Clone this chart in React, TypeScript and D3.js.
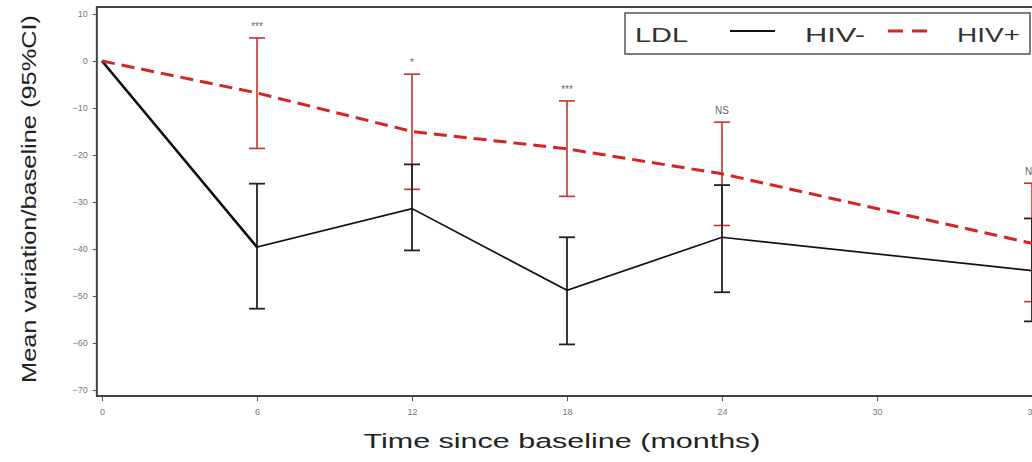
import React, { useEffect, useRef } from "react";
import * as d3 from "d3";

// months since baseline
const months = [0, 6, 12, 18, 24, 36];
const xTicks = [0, 6, 12, 18, 24, 30, 36];
const yTicks = [10, 0, -10, -20, -30, -40, -50, -60, -70];

// HIV- (black, solid)
const negMean = [0, -39.6, -31.4, -48.8, -37.5, -44.6];
const negLow = [null, -52.7, -40.3, -60.3, -49.2, -55.4];
const negHigh = [null, -26.1, -22.0, -37.5, -26.4, -33.5];

// HIV+ (red, dashed)
const posMean = [0, -6.8, -15.0, -18.7, -24.0, -38.8];
const posLow = [null, -18.6, -27.3, -28.8, -35.0, -51.2];
const posHigh = [null, 4.9, -2.8, -8.5, -13.0, -26.0];

// significance labels above the HIV+ upper limit
const signif = [null, "***", "*", "***", "NS", "NS"];

export default function App() {
  const ref = useRef<SVGSVGElement>(null);

  useEffect(() => {
    const svg = d3.select(ref.current);
    svg.selectAll("*").remove();

    const x = d3.scaleLinear().domain([0, 36]).range([102, 1032]);
    const y = d3.scaleLinear().domain([-70, 10]).range([390, 14]);
    const left = x(-0.2);
    const top = y(11.5);
    const bottom = y(-71.3);
    const right = x(36.4);
    const lf = "Liberation Sans, Arial, sans-serif";

    const g = svg.append("g");

    // frame lines
    g.append("line").attr("x1", left).attr("x2", right).attr("y1", top).attr("y2", top)
      .attr("stroke", "#444").attr("stroke-width", 2);

    const xAxis = g.append("g").attr("transform", `translate(0, ${bottom})`)
      .call(d3.axisBottom(x).tickValues(xTicks).tickSize(5).tickPadding(8).tickFormat(d3.format("d")));
    xAxis.select(".domain").remove();
    g.append("line").attr("x1", left).attr("x2", right).attr("y1", bottom).attr("y2", bottom)
      .attr("stroke", "#444").attr("stroke-width", 2);

    const yAxis = g.append("g").attr("transform", `translate(${left}, 0)`)
      .call(d3.axisLeft(y).tickValues(yTicks).tickSize(4).tickPadding(5).tickFormat(d3.format("d")));
    yAxis.select(".domain").remove();
    g.append("line").attr("x1", left).attr("x2", left).attr("y1", top - 1).attr("y2", bottom + 1)
      .attr("stroke", "#444").attr("stroke-width", 2);

    [xAxis, yAxis].forEach(a => {
      a.selectAll(".tick line").attr("stroke", "#555");
      a.selectAll(".tick text").attr("fill", "#777").style("font-size", "9px")
        .style("font-family", lf);
    });

    // error bars
    const drawBars = (low, high, color, width) => {
      months.forEach((m, i) => {
        if (low[i] == null) return;
        const cx = x(m);
        g.append("line").attr("x1", cx).attr("x2", cx).attr("y1", y(high[i])).attr("y2", y(low[i]))
          .attr("stroke", color).attr("stroke-width", width);
        [low[i], high[i]].forEach(v => {
          g.append("line").attr("x1", cx - 8).attr("x2", cx + 8).attr("y1", y(v)).attr("y2", y(v))
            .attr("stroke", color).attr("stroke-width", width);
        });
      });
    };
    drawBars(posLow, posHigh, "#c8322e", 1.6);
    drawBars(negLow, negHigh, "#222", 1.8);

    const line = d3.line<number>().x((d, i) => x(months[i])).y(d => y(d));

    // black line: first segment drawn heavier
    g.append("path").datum(negMean.slice(0, 2)).attr("d", line)
      .attr("fill", "none").attr("stroke", "#111").attr("stroke-width", 2.6);
    g.append("path").datum(negMean)
      .attr("d", line)
      .attr("fill", "none").attr("stroke", "#111").attr("stroke-width", 1.7);

    g.append("path").datum(posMean).attr("d", line)
      .attr("fill", "none").attr("stroke", "#d42424").attr("stroke-width", 3)
      .attr("stroke-dasharray", "13 7");

    // significance labels
    months.forEach((m, i) => {
      if (!signif[i]) return;
      g.append("text").attr("x", x(m)).attr("y", y(posHigh[i]) - 8)
        .attr("text-anchor", "middle").attr("fill", "#666")
        .style("font-size", "10px").style("font-family", lf)
        .text(signif[i]);
    });

    // legend
    const lg = g.append("g");
    lg.append("rect").attr("x", 625).attr("y", 13).attr("width", 405).attr("height", 41)
      .attr("fill", "white").attr("stroke", "#555").attr("stroke-width", 1.5);
    const legendText = (tx, len, s) =>
      lg.append("text").attr("x", tx).attr("y", 42).style("font-size", "21px").style("font-family", lf)
        .attr("textLength", len).attr("lengthAdjust", "spacingAndGlyphs")
        .attr("fill", "#333").text(s);
    legendText(635, 53, "LDL");
    lg.append("line").attr("x1", 730).attr("x2", 775).attr("y1", 31).attr("y2", 31)
      .attr("stroke", "#111").attr("stroke-width", 1.8);
    legendText(805, 60, "HIV-");
    lg.append("line").attr("x1", 888).attr("x2", 927).attr("y1", 31).attr("y2", 31)
      .attr("stroke", "#d42424").attr("stroke-width", 3).attr("stroke-dasharray", "15 9");
    legendText(957, 63, "HIV+");

    // axis titles
    g.append("text").attr("x", 562).attr("y", 448).attr("text-anchor", "middle")
      .style("font-size", "20px").style("font-family", lf).attr("fill", "#222")
      .attr("textLength", 397).attr("lengthAdjust", "spacingAndGlyphs")
      .text("Time since baseline (months)");
    g.append("text").attr("transform", `translate(36, 199) rotate(-90)`).attr("text-anchor", "middle")
      .style("font-size", "21px").style("font-family", lf)
      .attr("textLength", 368).attr("lengthAdjust", "spacingAndGlyphs")
      .attr("fill", "#222")
      .text("Mean variation/baseline (95%CI)");
  }, []);

  return (
    <div style={{ position: "absolute", left: 0, top: 0 }}>
      <svg ref={ref} width={1032} height={462} style={{ display: "block", background: "white" }} />
    </div>
  );
}
